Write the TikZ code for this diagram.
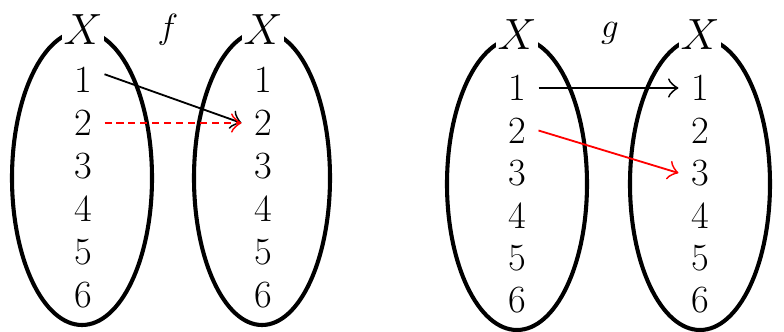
\documentclass[tikz,border=0pt]{standalone}
\usetikzlibrary{arrows.meta}
\tikzset{
  setline/.style={line width=2.9pt},
  num/.style={font=\Huge,scale=1.1,inner sep=8pt},
  setname/.style={font=\Huge,scale=1.25,fill=white,inner sep=1pt},
  mapname/.style={font=\Huge},
  mapline/.style={line width=1.3pt,-{Classical TikZ Rightarrow[length=2.6mm,width=4.8mm]}}
}
\begin{document}
\begin{tikzpicture}[x=0.025cm,y=0.025cm]
\useasboundingbox (0,0) rectangle (784,331);
\draw[setline] (82,153) ellipse (70 and 147);
\draw[setline] (262,153) ellipse (68 and 147);
\draw[setline] (517,147) ellipse (70 and 146);
\draw[setline] (700,147) ellipse (70 and 146);
\node[setname] (fx) at (83,301) {$X$};
\node[setname] (fy) at (263,301) {$X$};
\node[setname] (gx) at (517,296) {$X$};
\node[setname] (gy) at (700,296) {$X$};
\node[mapname] (f) at (168,301) {$f$};
\node[mapname] (g) at (610,298) {$g$};
\foreach \i in {1,...,6} {
  \node[num] (fa\i) at (83,{251-43*(\i-1)}) {\i};
  \node[num] (fb\i) at (263,{251-43*(\i-1)}) {\i};
  \node[num] (ga\i) at (517,{243-42.5*(\i-1)}) {\i};
  \node[num] (gb\i) at (700,{243-42.5*(\i-1)}) {\i};
}
\draw[mapline] (fa1.15) -- (fb2.west);
\draw[mapline,red,dash pattern=on 5pt off 3.5pt] (fa2.east) -- (fb2.west);
\draw[mapline] (ga1.east) -- (gb1.west);
\draw[mapline,red] (ga2.east) -- (gb3.west);
\end{tikzpicture}
\end{document}
